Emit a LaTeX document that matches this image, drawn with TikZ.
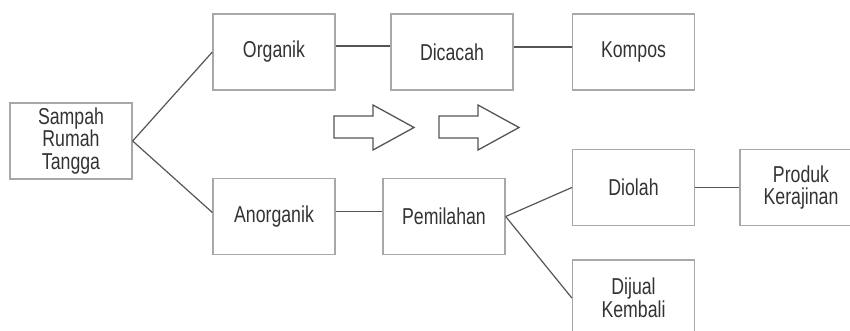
\documentclass[tikz,border=0pt]{standalone}
\usepackage{fontspec}
\newfontfamily\lab{Liberation Sans}[FakeStretch=0.77]
\definecolor{boxline}{HTML}{A8A8A8}
\definecolor{conline}{HTML}{555555}
\definecolor{txt}{HTML}{333333}
\tikzset{
  box/.style={draw=boxline, line width=1.3pt, minimum width=122pt, minimum height=76pt,
    inner sep=0pt, align=center, text=txt, font=\lab\fontsize{23}{22.7}\selectfont},
  con/.style={draw=conline, line width=1.2pt},
  bigarrow/.style={draw=conline, line width=1.3pt, fill=white, line join=miter}
}
\begin{document}
\begin{tikzpicture}[x=1pt,y=-1pt]
\useasboundingbox (0,0) rectangle (850,331);
\clip (0,0) rectangle (850,331);
\node[box] (sam) at (71,141) {Sampah\\Rumah\\Tangga};
\node[box] (org) at (274,52) {Organik};
\node[box] (ano) at (274,216.5) {Anorganik};
\node[box] (dic) at (452,52) {Dicacah};
\node[box] (kom) at (633.5,52) {Kompos};
\node[box] (pem) at (444,216.5) {Pemilahan};
\node[box] (dio) at (633.5,187.5) {Diolah};
\node[box] (pro) at (801,187.5) {Produk\\Kerajinan};
\node[box] (dij) at (633.5,298) {Dijual\\Kembali};
\draw[con] (sam.east) -- (org.west);
\draw[con] (sam.east) -- ([yshift=4pt]ano.west);
\draw[con] ([yshift=6pt]org.east) -- ([yshift=6pt]dic.west);
\draw[con] ([yshift=5pt]dic.east) -- ([yshift=5pt]kom.west);
\draw[con] ([yshift=5pt]ano.east) -- ([yshift=5pt]pem.west);
\draw[con] (pem.east) -- (dio.west);
\draw[con] (pem.east) -- (dij.west);
\draw[con] (dio.east) -- (pro.west);
\draw[bigarrow] (334,116) -- (373,116) -- (373,105) -- (414,127.5) -- (373,150) -- (373,138) -- (334,138) -- cycle;
\draw[bigarrow] (439,116) -- (478,116) -- (478,105) -- (519,127.5) -- (478,150) -- (478,138) -- (439,138) -- cycle;
\end{tikzpicture}
\end{document}
